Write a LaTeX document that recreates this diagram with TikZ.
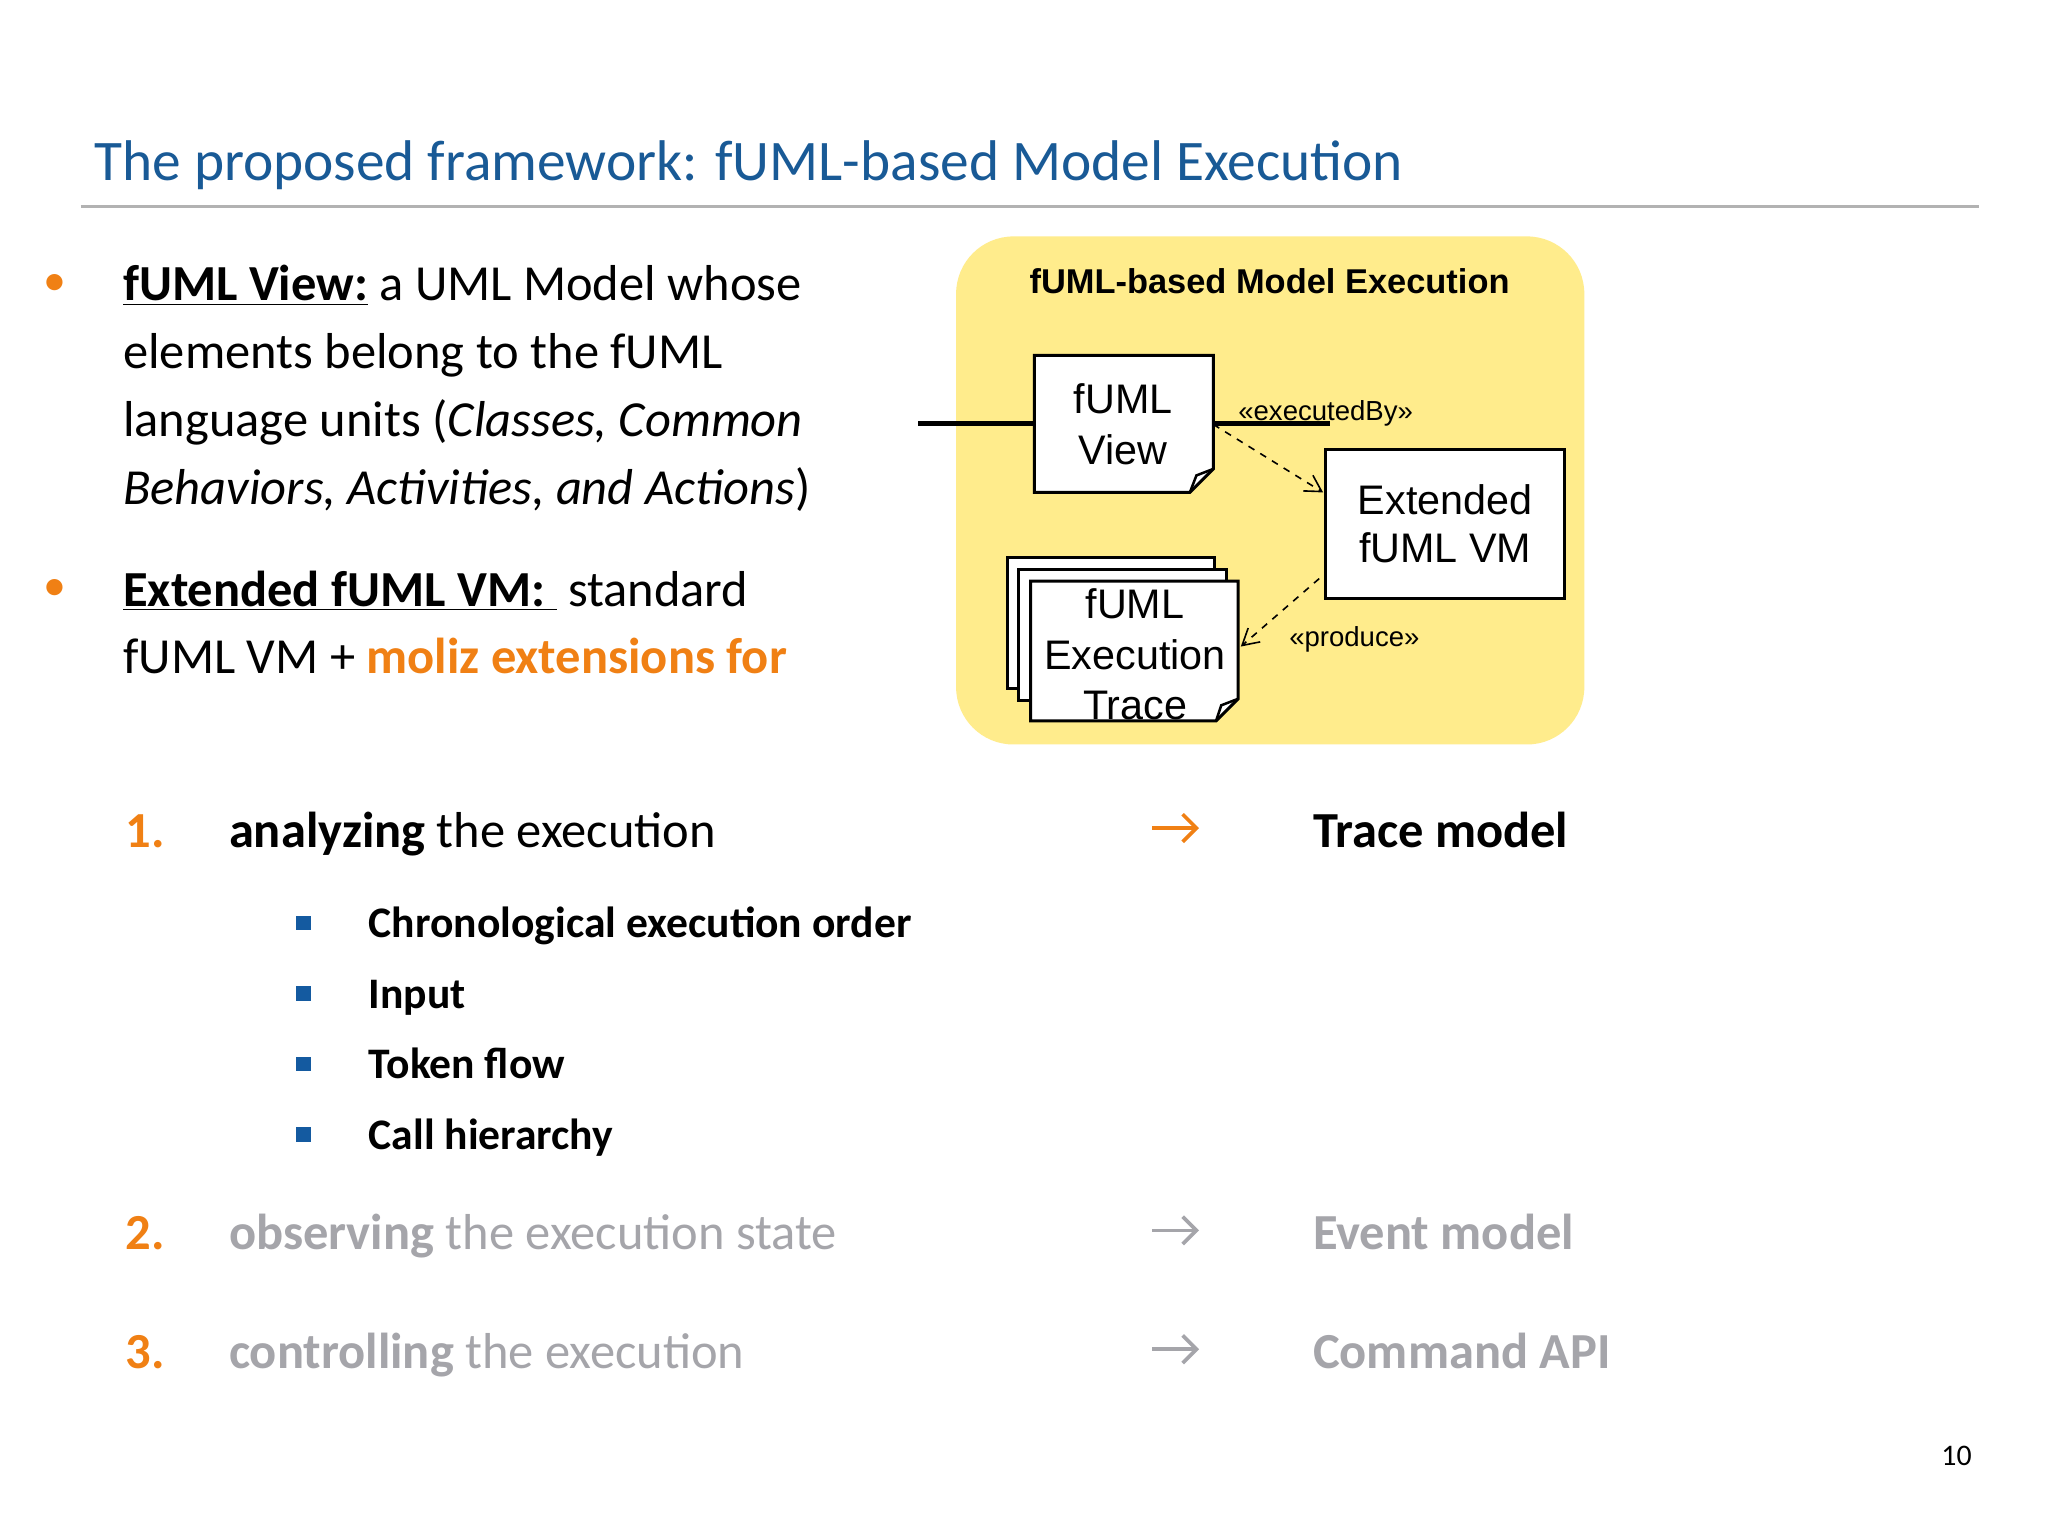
\documentclass[tikz,border=0pt]{standalone}
\usepackage{fontspec}
\setmainfont{Carlito}
\newfontfamily\arialf{Liberation Sans}
\usetikzlibrary{arrows.meta}
\definecolor{tblue}{RGB}{25,90,150}
\definecolor{orng}{RGB}{240,128,20}
\definecolor{gry}{RGB}{165,165,170}
\definecolor{ylw}{RGB}{255,236,140}
\definecolor{sqb}{RGB}{20,90,160}
\begin{document}
\begin{tikzpicture}[x=0.02cm,y=-0.02cm,
 txt/.style={anchor=base west,inner sep=0pt,font=\fontsize{22}{26}\selectfont},
 itm/.style={anchor=base west,inner sep=0pt,font=\fontsize{22}{26}\selectfont\bfseries},
 sub/.style={anchor=base west,inner sep=0pt,font=\fontsize{19}{23}\selectfont\bfseries},
 dg/.style={draw,line width=1.3pt,fill=white,inner sep=0pt,align=center,font=\arialf\fontsize{18}{21}\selectfont},
 st/.style={font=\arialf\fontsize{12}{14}\selectfont,inner sep=1pt},
 dep/.style={dashed,line width=0.7pt,-{Straight Barb[length=7pt,width=8pt]}},
 arr/.style={line width=1.6pt,-{Straight Barb[length=6pt,width=12pt]}}]
\useasboundingbox (0,0) rectangle (1568,1176);
\fill[white] (0,0) rectangle (1568,1176);
\node[anchor=base west,inner sep=0pt,text=tblue,font=\fontsize{25}{30}\selectfont] (title) at (72,138) {The proposed framework: fUML-based Model Execution};
\draw[gray!60,line width=1.5pt] (62,158) coordinate (l1) -- (1515,158) coordinate (l2);
% bullets
\node[anchor=base,text=orng,font=\fontsize{20}{24}\selectfont] (b1) at (42,226) {•};
\node[txt] (t1) at (94,230) {\textbf{\underline{fUML View:}} a UML Model whose};
\node[txt] (t2) at (94,282) {elements belong to the fUML};
\node[txt] (t3) at (94,334) {language units (\textit{Classes, Common}};
\node[txt] (t4) at (94,386) {\textit{Behaviors, Activities, and Actions})};
\node[anchor=base,text=orng,font=\fontsize{20}{24}\selectfont] (b2) at (42,460) {•};
\node[txt] (t5) at (94,464) {\textbf{\underline{Extended fUML VM:\ }} standard};
\node[txt] (t6) at (94,516) {fUML VM + \textcolor{orng}{\textbf{moliz extensions for}}};
% diagram
\fill[ylw,rounded corners=25] (732,181) rectangle (1213,570);
\node[anchor=base,inner sep=0pt,font=\arialf\bfseries\fontsize{15}{18}\selectfont] (dt) at (972,225) {fUML-based Model Execution};
\node[dg,minimum width=137\pgflinewidth,text width=2.6cm] (fv) at (860.5,324.5) {};
\draw[line width=1.3pt,fill=white] (792,272) -- (929,272) -- (929,359) -- (911,377) -- (792,377) -- cycle;
\draw[line width=1.1pt] (929,359) -- (916,364) -- (911,377);
\node[align=center,font=\arialf\fontsize{18}{22}\selectfont,inner sep=0pt] (fvt) at (860,325) {fUML\\View};
\node[dg,minimum width=3.66cm,minimum height=2.28cm] (vm) at (1106.5,401) {Extended\\fUML VM};
\foreach \o in {0,9}{
 \draw[line width=1.3pt,fill=white] (771+\o,427+\o) -- (930+\o,427+\o) -- (930+\o,527+\o) -- (771+\o,527+\o) -- cycle;}
\draw[line width=1.3pt,fill=white] (789,445) -- (948,445) -- (948,535) -- (931,552) -- (789,552) -- cycle;
\draw[line width=1.1pt] (948,535) -- (935,540) -- (931,552);
\node[align=center,font=\arialf\fontsize{18}{22}\selectfont,inner sep=0pt] (tr) at (869,501) {fUML\\Execution\\Trace};
\coordinate (e1) at (929,325); \coordinate (e2) at (1013,377);
\draw[dep] (e1) -- (e2);
\node[st,anchor=base west] (s1) at (946,322) {«executedBy»};
\coordinate (p1) at (1010,443); \coordinate (p2) at (950,495);
\draw[dep] (p1) -- (p2);
\node[st,anchor=base west] (s2) at (985,495) {«produce»};
% numbered items
\node[itm,text=orng] (n1) at (96,649) {1.};
\node[txt] (i1) at (175,649) {\textbf{analyzing} the execution};
\coordinate (a1) at (882,634); \coordinate (a1e) at (918,634);
\draw[arr,orng] (a1) -- (a1e);
\node[itm] (r1) at (1005,649) {Trace model};
\foreach \y/\t/\n in {718/Chronological execution order/q1,772/Input / output/q2,826/Token flow/q3,880/Call hierarchy/q4}{
 \fill[sqb] (227,\y-17) rectangle (238,\y-6);
 \node[sub] (\n) at (282,\y) {\t};}
\node[itm,text=orng] (n2) at (96,957) {2.};
\node[txt,text=gry] (i2) at (175,957) {\textbf{observing} the execution state};
\coordinate (a2) at (882,942); \coordinate (a2e) at (918,942);
\draw[arr,gry] (a2) -- (a2e);
\node[itm,text=gry] (r2) at (1005,957) {Event model};
\node[itm,text=orng] (n3) at (96,1048) {3.};
\node[txt,text=gry] (i3) at (175,1048) {\textbf{controlling} the execution};
\coordinate (a3) at (882,1033); \coordinate (a3e) at (918,1033);
\draw[arr,gry] (a3) -- (a3e);
\node[itm,text=gry] (r3) at (1005,1048) {Command API};
\node[anchor=base,font=\fontsize{13}{15}\selectfont] (pg) at (1498,1122) {10};
\end{tikzpicture}
\end{document}
